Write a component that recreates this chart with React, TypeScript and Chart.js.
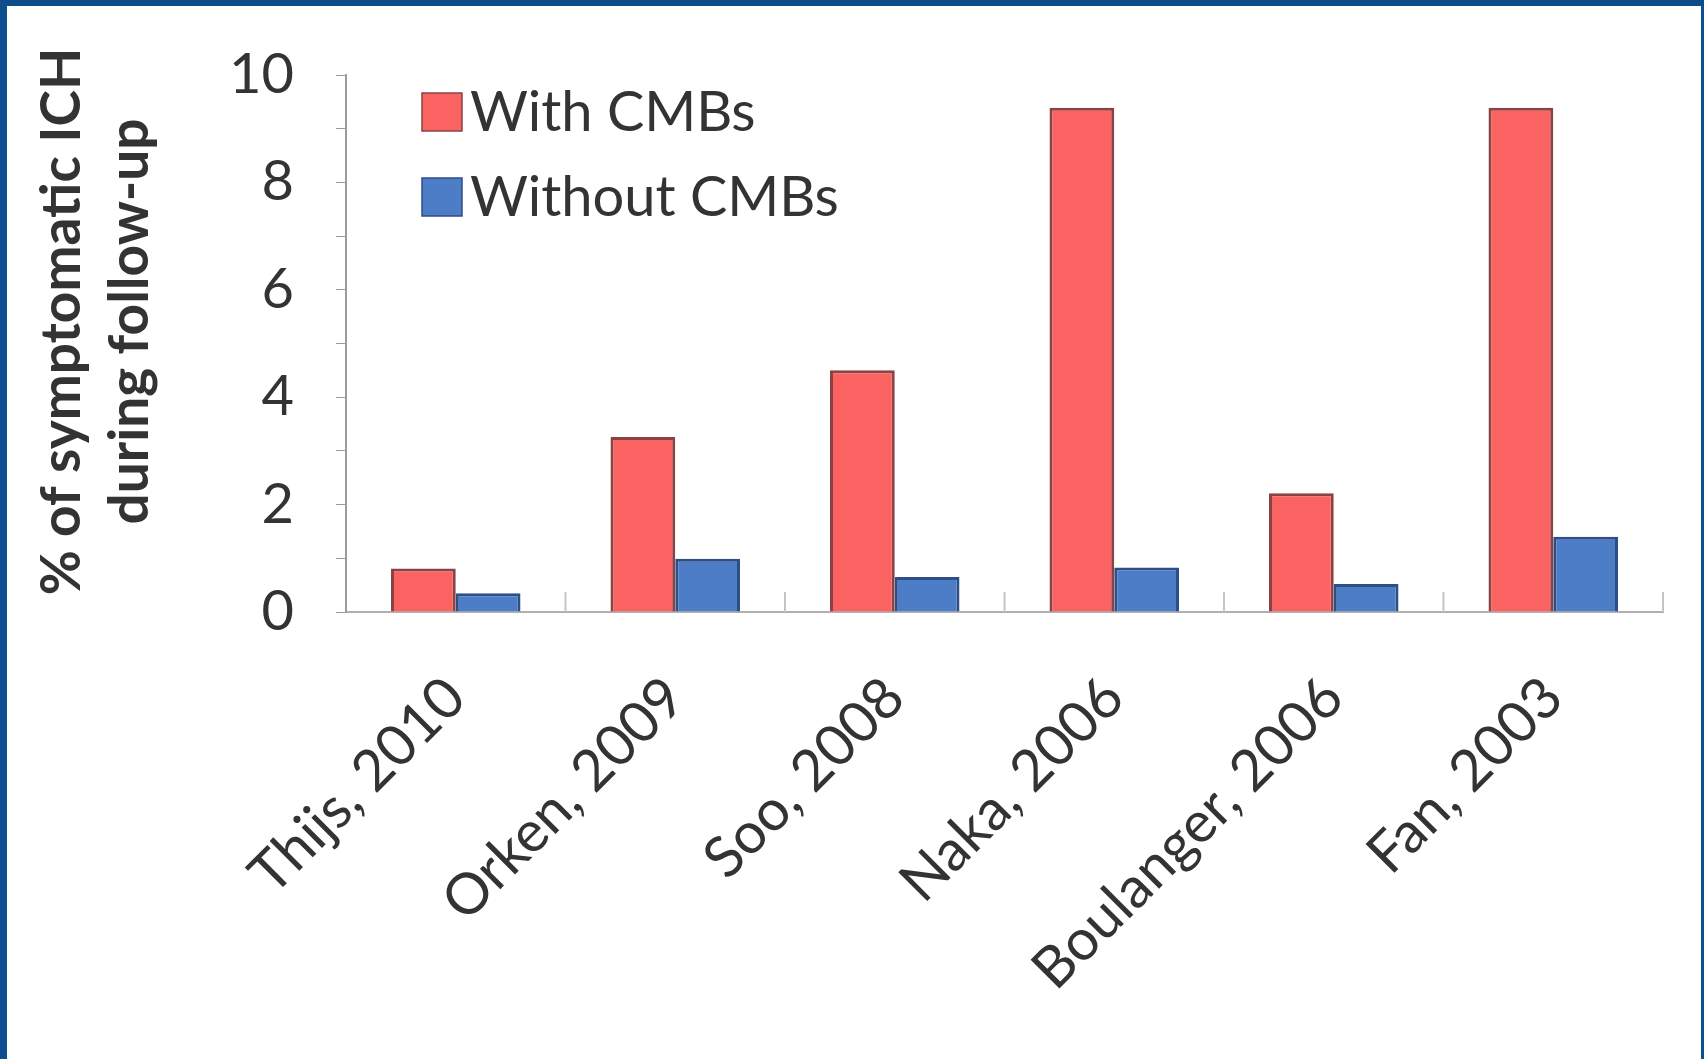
import { useEffect, useRef } from 'react';
import { Chart, registerables } from 'chart.js';

Chart.register(...registerables);

// Studies on the x axis
const studies = ['Thijs, 2010', 'Orken, 2009', 'Soo, 2008', 'Naka, 2006', 'Boulanger, 2006', 'Fan, 2003'];
// % of symptomatic ICH during follow-up
const withCMBs = [0.81, 3.26, 4.5, 9.39, 2.21, 9.39];
const withoutCMBs = [0.35, 0.99, 0.65, 0.83, 0.52, 1.4];
// Labelled y-axis ticks (minor marks sit between them)
const yLabelled = [0, 2, 4, 6, 8, 10];
// Two-line y-axis title
const yTitleLines = ['% of symptomatic ICH', 'during follow-up'];

const FONT = 'Lato, "Open Sans", sans-serif';
const TEXT = '#333333';
const AXIS = '#9c9c9c';

// Legend drawn inside the plot area, upper-left
const plotLegend = {
  id: 'plotLegend',
  afterDraw(chart: any) {
    const { ctx, chartArea } = chart;
    ctx.save();
    chart.data.datasets.forEach((ds: any, i: number) => {
      const x = chartArea.left + 76;
      const y = chartArea.top + 18 + i * 85;
      ctx.fillStyle = ds.backgroundColor;
      ctx.fillRect(x, y, 40, 38);
      ctx.strokeStyle = ds.borderColor;
      ctx.lineWidth = 1.5;
      ctx.strokeRect(x, y, 40, 38);
      ctx.fillStyle = TEXT;
      ctx.font = `56px ${FONT}`;
      ctx.textBaseline = 'middle';
      ctx.textAlign = 'left';
      ctx.fillText(ds.label, x + 48, y + 20);
    });
    ctx.restore();
  },
};

// Rotated two-line title to the left of the y axis
const yAxisTitle = {
  id: 'yAxisTitle',
  afterDraw(chart: any) {
    const { ctx, chartArea } = chart;
    const cy = (chartArea.top + chartArea.bottom) / 2 - 22;
    const xs = [55, 123];
    ctx.save();
    ctx.fillStyle = TEXT;
    ctx.font = `bold 55px ${FONT}`;
    ctx.textAlign = 'center';
    ctx.textBaseline = 'middle';
    yTitleLines.forEach((line, i) => {
      ctx.save();
      ctx.translate(xs[i], cy);
      ctx.rotate(-Math.PI / 2);
      ctx.fillText(line, 0, 0);
      ctx.restore();
    });
    ctx.restore();
  },
};

// Short inward tick marks between categories on the x axis
const categoryDividers = {
  id: 'categoryDividers',
  beforeDatasetsDraw(chart: any) {
    const { ctx, chartArea, scales } = chart;
    const xs = scales.x;
    const n = xs.ticks.length;
    const step = n > 1 ? xs.getPixelForTick(1) - xs.getPixelForTick(0) : xs.width;
    ctx.save();
    ctx.strokeStyle = '#c4c4c4';
    ctx.lineWidth = 2;
    for (let i = 0; i < n; i++) {
      const x = xs.getPixelForTick(i) + step / 2;
      ctx.beginPath();
      ctx.moveTo(x, chartArea.bottom);
      ctx.lineTo(x, chartArea.bottom - 20);
      ctx.stroke();
    }
    ctx.restore();
  },
};

export default function App() {
  const canvasRef = useRef<HTMLCanvasElement | null>(null);

  useEffect(() => {
    if (!canvasRef.current) return;
    const chart = new Chart(canvasRef.current, {
      type: 'bar',
      data: {
        labels: studies,
        datasets: [
          {
            label: 'With CMBs',
            data: withCMBs,
            backgroundColor: '#fb6363',
            borderColor: '#8a4242',
            borderWidth: 3,
          },
          {
            label: 'Without CMBs',
            data: withoutCMBs,
            backgroundColor: '#4d7dc6',
            borderColor: '#2e4e86',
            borderWidth: 3,
          },
        ],
      },
      options: {
        responsive: false,
        animation: false,
        layout: { padding: { top: 69, right: 38, bottom: 0, left: 0 } },
        datasets: { bar: { categoryPercentage: 0.59, barPercentage: 1 } },
        plugins: {
          legend: { display: false },
          tooltip: { enabled: false },
        },
        scales: {
          x: {
            grid: {
              display: false,
            },
            border: { color: '#b0b0b0', width: 2 },
            ticks: {
              color: TEXT,
              font: { family: FONT, size: 57 },
              minRotation: 45,
              maxRotation: 45,
              padding: 44,
            },
            afterFit: (scale: any) => {
              scale.height = 447;
            },
          },
          y: {
            min: 0,
            max: 10,
            grid: {
              drawOnChartArea: false,
              color: AXIS,
              tickLength: 10,
            },
            border: { color: AXIS, width: 2 },
            ticks: {
              stepSize: 1,
              autoSkip: false,
              color: TEXT,
              font: { family: FONT, size: 56 },
              padding: 42,
              callback: (v: any) => (yLabelled.includes(Number(v)) ? String(v) : ''),
            },
            afterFit: (scale: any) => {
              scale.width = 339;
              scale.paddingTop = 0;
              scale.paddingBottom = 0;
            },
          },
        },
      },
      plugins: [categoryDividers, plotLegend, yAxisTitle],
    });
    return () => chart.destroy();
  }, []);

  return (
    <div
      style={{
        position: 'fixed',
        left: 0,
        top: 0,
        width: 1704,
        height: 1059,
        boxSizing: 'border-box',
        borderTop: '6px solid #0d4b8a',
        borderLeft: '7px solid #0d4e8e',
        borderRight: '3px solid #0d4e8e',
        background: '#ffffff',
      }}
    >
      <canvas ref={canvasRef} width={1694} height={1053} style={{ display: 'block' }} />
    </div>
  );
}
